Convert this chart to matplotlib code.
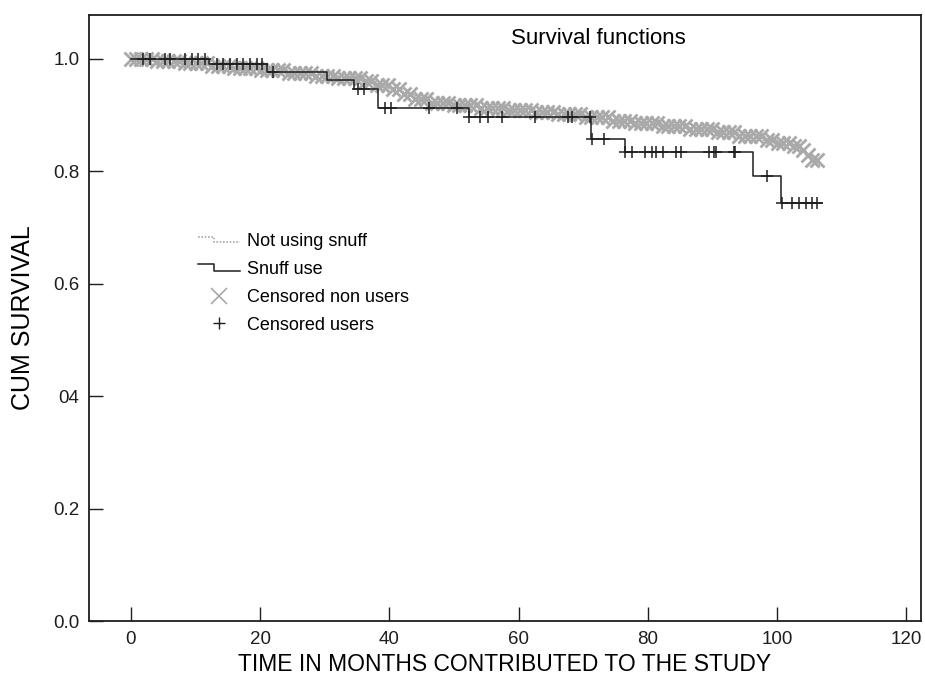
import numpy as np
import matplotlib
matplotlib.use('Agg')
import matplotlib.pyplot as plt
from matplotlib.lines import Line2D
from matplotlib.legend_handler import HandlerBase

plt.rcParams['font.family'] = ['Liberation Sans', 'DejaVu Sans']

# Snuff users: step curve (event times, survival after the event) and censored times
snuff_t = [0, 12.0, 21.0, 30.3, 34.5, 38.2, 52.3, 71.2, 76.4, 96.3, 100.7]
snuff_s = [1.000, 0.990, 0.976, 0.963, 0.946, 0.913, 0.896, 0.857, 0.835, 0.792, 0.744]
snuff_end = 107.0
snuff_cens = [1.9, 2.9, 5.3, 6.0, 8.4, 9.4, 10.4, 11.4, 13.3, 14.2, 15.3, 16.4, 17.3,
              18.4, 19.5, 20.3, 22.0, 35.1, 36.0, 39.3, 40.2, 46.2, 50.4, 52.4, 54.0,
              55.2, 57.4, 62.5, 67.6, 68.3, 71.0, 71.4, 73.3, 76.5, 77.5, 79.5, 80.6,
              81.3, 82.3, 84.4, 85.2, 89.5, 90.3, 90.6, 93.4, 93.5, 98.5, 100.8, 102.4,
              103.4, 104.5, 105.5, 106.2]

# Non users: step curve and censored times
non_t = [0, 4, 8, 12, 16, 20, 24, 28, 32, 36, 38, 40, 42, 44, 46, 50, 54, 58, 62, 66,
         70, 74, 78, 82, 86, 90, 94, 98, 100, 102, 103.5, 104.5, 105.5, 106.3]
non_s = [1.000, 0.996, 0.992, 0.988, 0.984, 0.980, 0.975, 0.970, 0.966, 0.960, 0.954,
         0.946, 0.937, 0.928, 0.922, 0.918, 0.913, 0.909, 0.905, 0.902, 0.896, 0.890,
         0.885, 0.880, 0.875, 0.869, 0.863, 0.856, 0.851, 0.845, 0.837, 0.829, 0.820,
         0.812]
non_cens = [0.0, 0.7, 1.6, 2.4, 3.3, 4.1, 5.0, 5.8, 6.7, 7.4, 8.4, 9.2, 10.0, 10.9, 11.7,
            12.6, 13.4, 14.3, 15.1, 16.0, 16.8, 17.7, 18.5, 19.4, 20.2, 21.1, 21.9, 22.8,
            23.6, 24.5, 25.3, 26.2, 27.0, 27.9, 28.7, 29.6, 30.4, 31.3, 32.1, 33.0, 33.8,
            34.7, 35.5, 36.4, 37.2, 38.1, 38.9, 39.8, 40.6, 41.5, 42.3, 43.2, 44.0, 44.9,
            45.7, 46.6, 47.4, 48.3, 49.1, 50.0, 50.8, 51.7, 52.5, 53.4, 54.2, 55.1, 55.9,
            56.8, 57.6, 58.5, 59.3, 60.2, 61.0, 61.9, 62.7, 63.6, 64.4, 65.3, 66.1, 67.0,
            67.8, 68.7, 69.5, 70.4, 71.2, 72.1, 72.9, 73.8, 74.6, 75.5, 76.3, 77.2, 78.0,
            78.9, 79.7, 80.6, 81.4, 82.3, 83.1, 84.0, 84.8, 85.7, 86.5, 87.4, 88.2, 89.1,
            89.9, 90.8, 91.6, 92.5, 93.3, 94.2, 95.0, 95.9, 96.7, 97.6, 98.4, 99.3, 100.1,
            101.0, 101.8, 102.6, 103.4, 104.1, 104.8, 105.5, 106.2]
non_end = 106.6

xticks = [0, 20, 40, 60, 80, 100, 120]
yticks = [0.0, 0.2, 0.4, 0.6, 0.8, 1.0]
ytick_labels = ['0.0', '0.2', '04', '0.6', '0.8', '1.0']

GREY = '#a9a9a9'
DARK = '#1e1e1e'


def surv_at(times, step_t, step_s):
    idx = np.searchsorted(step_t, times, side='right') - 1
    return np.asarray(step_s)[idx]


class StepHandler(HandlerBase):
    def __init__(self, color, ls, lw, drop):
        super().__init__()
        self.color, self.ls, self.lw, self.drop = color, ls, lw, drop

    def create_artists(self, legend, orig_handle, xdescent, ydescent, width, height,
                       fontsize, trans):
        x0, x1 = -xdescent, -xdescent + width
        xm = x0 + width * 0.38
        ytop = -ydescent + height * (0.5 + self.drop)
        ybot = -ydescent + height * (0.5 - self.drop)
        line = Line2D([x0, xm, xm, x1], [ytop, ytop, ybot, ybot],
                      color=self.color, ls=self.ls, lw=self.lw, transform=trans)
        return [line]


fig = plt.figure(figsize=(9.25, 6.79), dpi=100)
ax = fig.add_axes([89 / 925, 1 - 621 / 679, 832 / 925, 606 / 679])

# Non users (grey, dotted step + crosses)
ax.step(list(non_t) + [non_end], list(non_s) + [non_s[-1]], where='post',
        color=GREY, ls=(0, (1, 1)), lw=1.2, zorder=2)
ax.plot(non_cens, surv_at(non_cens, non_t, non_s), ls='none', marker='x',
        ms=9.5, mew=2.0, color=GREY, zorder=3)

# Snuff users (black step + plus marks)
ax.step(list(snuff_t) + [snuff_end], list(snuff_s) + [snuff_s[-1]], where='post',
        color=DARK, lw=1.1, zorder=4)
ax.plot(snuff_cens, surv_at(snuff_cens, snuff_t, snuff_s), ls='none', marker='+',
        ms=8, mew=1.1, color=DARK, zorder=5)

ax.set_xlim(-6.5, 122.3)
ax.set_ylim(0.0, 1.078)
ax.set_xticks(xticks)
ax.set_yticks(yticks)
ax.set_yticklabels(ytick_labels)
ax.tick_params(direction='in', length=10, width=1, labelsize=13.5, pad=7,
               colors='#1e1e1e')
for sp in ax.spines.values():
    sp.set_linewidth(1.3)
    sp.set_color('#1e1e1e')

ax.set_xlabel('TIME IN MONTHS CONTRIBUTED TO THE STUDY', fontsize=16.5, labelpad=4)
ax.set_ylabel('CUM SURVIVAL', fontsize=18, labelpad=13)
ax.text(0.612, 0.962, 'Survival functions', transform=ax.transAxes,
        ha='center', va='center', fontsize=16)

h_non = Line2D([], [])
h_snuff = Line2D([], [])
h_x = Line2D([], [], ls='none', marker='x', ms=11, mew=1.2, color=GREY)
h_p = Line2D([], [], ls='none', marker='+', ms=9, mew=1.0, color=DARK)
ax.legend([h_non, h_snuff, h_x, h_p],
          ['Not using snuff', 'Snuff use', 'Censored non users', 'Censored users'],
          handler_map={h_non: StepHandler(GREY, (0, (1, 1)), 1.2, 0.2),
                       h_snuff: StepHandler(DARK, '-', 1.1, 0.3)},
          loc='upper left', bbox_to_anchor=(0.131, 0.640), frameon=False,
          fontsize=13, handlelength=2.3, handletextpad=0.4, labelspacing=0.6,
          borderpad=0, borderaxespad=0)

fig.savefig('out.png', dpi=100)
